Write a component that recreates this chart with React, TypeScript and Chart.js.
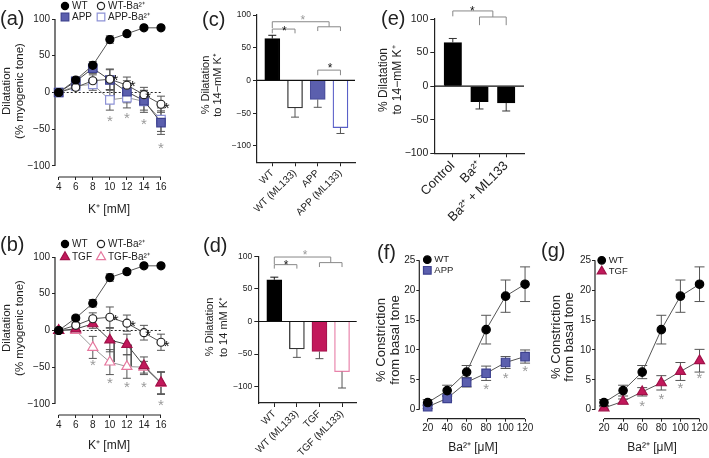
import React, { useEffect, useRef } from 'react';
import { Chart, registerables } from 'chart.js';

Chart.register(...registerables);

const W = 709;
const H = 458;
const FONT = "'Liberation Sans', Arial, Helvetica, sans-serif";
Chart.defaults.font.family = FONT;
Chart.defaults.color = '#222';

// ---------------- DATA ----------------
// (a),(b): dilatation to K+
const kConc = [4, 6, 8, 10, 12, 14, 16];
const kTicks = [4, 6, 8, 10, 12, 14, 16];
const dilTicks = [-100, -50, 0, 50, 100];
const wtK = [0, 17, 37, 72, 80, 88, 88];
const wtKErr = [0, 3, 5, 5, 3, 2, 2];
const wtBaK = [0, 7, 16, 18, 10, -3, -16];
const wtBaKErr = [0, 4, 8, 14, 11, 10, 11];
const appK = [0, 15, 33, 17, 1, -11, -41];
const appKErr = [0, 4, 7, 14, 15, 13, 16];
const appBaK = [0, 9, 11, -10, -7, -12, -37];
const appBaKErr = [0, 5, 8, 14, 14, 15, 16];
const tgfK = [0, 2, 9, -13, -19, -48, -71];
const tgfKErr = [0, 4, 6, 16, 14, 12, 15];
const tgfBaK = [0, 0, -23, -43, -49, -50, -72];
const tgfBaKErr = [0, 4, 15, 17, 16, 8, 15];

const aBlackStarX = [10.64, 12.68, 14.5, 16.67];
const aBlackStarY = [23, 14, -1, -16];
const aGrayStarX = [10, 12, 14, 16];
const aGrayStarY = [-33, -29, -38, -70];
const aLinkIdx = [3];
const bBlackStarX = [10.68, 12.7, 14.5, 16.67];
const bBlackStarY = [20, 11, -1, -16];
const bGrayStarX = [8, 10, 12, 14, 16];
const bGrayStarY = [-42, -66, -72, -72, -96];
const bLinkIdx = [3, 4];

// (c),(d),(e): bar charts
const barTicks = [-100, -50, 0, 50, 100];
const cCats = ['WT', 'WT (ML133)', 'APP', 'APP (ML133)'];
const cVals = [64, -42, -29, -72];
const cErr = [5, 14, 12, 9];
const dCats = ['WT', 'WT (ML133)', 'TGF', 'TGF (ML133)'];
const dVals = [64, -42, -46, -77];
const dErr = [4, 13, 11, 25];
const eCats = ['Control', 'Ba²⁺', 'Ba²⁺ + ML133'];
const eVals = [65, -23, -25];
const eErr = [6, 11, 12];

// brackets: [x1, x2, yLine, yEnd1, yEnd2]
const cBrackets = [
  [0, 1, 78.5, 72, 72],
  [2, 3, 82, 75.5, 75.5],
  [0, 2.5, 89.7, 80, 82],
  [2, 3, 15.8, 8, 8],
];
const cGrayStarX = [1.34];
const cGrayStarY = [96.5];
const cBlackStarX = [0.53, 2.54];
const cBlackStarY = [81, 23.4];
const dBrackets = [
  [0, 1, 87.2, 81.1, 81.1],
  [2, 3, 90.3, 83.5, 83.5],
  [0, 2.5, 98.9, 88, 90.3],
];
const dGrayStarX = [1.36];
const dGrayStarY = [106.5];
const dBlackStarX = [0.52];
const dBlackStarY = [92.3];
const eBrackets = [
  [0, 1.5, 112, 104, 103],
  [1, 2, 103, 90.8, 90.8],
];
const eBlackStarX = [0.73];
const eBlackStarY = [117];

// (f),(g): constriction to Ba2+
const baConc = [20, 40, 60, 80, 100, 120];
const baTicks = [20, 40, 60, 80, 100, 120];
const conTicks = [0, 5, 10, 15, 20, 25];
const wtCon = [1.2, 3.2, 6.3, 13.4, 19.0, 21.0];
const wtConErr = [0.5, 0.9, 1.1, 2.4, 2.7, 2.9];
const appCon = [0.5, 1.9, 4.6, 6.1, 7.9, 8.9];
const appConErr = [0.3, 0.4, 0.8, 1.2, 1.0, 1.1];
const tgfCon = [0.3, 1.4, 3.0, 4.5, 6.4, 8.2];
const tgfConErr = [0.2, 0.4, 0.7, 1.2, 1.5, 1.9];
const fStarX = [80, 100, 120];
const fStarY = [4.2, 6.0, 7.1];
const gStarX = [60, 80, 100, 120];
const gStarY = [1.3, 2.5, 4.3, 5.9];

// ---------------- STYLES ----------------
const ST: any = {
  wt: { style: 'circle', r: 4, fill: '#000', stroke: '#000', line: '#555' },
  wtBa: { style: 'circle', r: 4, fill: '#fff', stroke: '#222', line: '#555' },
  app: { style: 'rect', r: 6, fill: '#5b5fae', stroke: '#3d418f', line: '#444' },
  appBa: { style: 'rect', r: 6, fill: '#fff', stroke: '#8d92d6', line: '#999' },
  tgf: { style: 'triangle', r: 5.8, fill: '#c2185b', stroke: '#a01249', line: '#444' },
  tgfBa: { style: 'triangle', r: 5.8, fill: '#fff', stroke: '#e6789f', line: '#999' },
  wtF: { style: 'circle', r: 4.2, fill: '#000', stroke: '#000', line: '#555' },
  appF: { style: 'rect', r: 6, fill: '#5b5fae', stroke: '#3d418f', line: '#555' },
  tgfF: { style: 'triangle', r: 5.8, fill: '#c2185b', stroke: '#a01249', line: '#555' },
};

const fmt = (v: number) => (v < 0 ? '−' + Math.abs(v) : String(v));

// ---------------- DRAW HELPERS ----------------
function seg(ctx: any, x1: number, y1: number, x2: number, y2: number, color: string, lw = 1, dash: number[] = []) {
  ctx.save();
  ctx.strokeStyle = color;
  ctx.lineWidth = lw;
  ctx.setLineDash(dash);
  ctx.beginPath();
  ctx.moveTo(x1, y1);
  ctx.lineTo(x2, y2);
  ctx.stroke();
  ctx.restore();
}

function txt(ctx: any, s: string, x: number, y: number, size: number, o: any = {}) {
  ctx.save();
  ctx.font = `${o.weight || 'normal'} ${size}px ${FONT}`;
  ctx.fillStyle = o.color || '#222';
  ctx.textAlign = o.align || 'center';
  ctx.textBaseline = o.baseline || 'middle';
  ctx.translate(x, y);
  if (o.rot) ctx.rotate(o.rot);
  ctx.fillText(s, 0, 0);
  ctx.restore();
}

function star(ctx: any, x: number, y: number, size: number, color: string) {
  txt(ctx, '*', x, y + 0.6 * size, size, { color, baseline: 'alphabetic' });
}

function marker(ctx: any, st: any, x: number, y: number, scale = 1) {
  const r = st.r * scale;
  ctx.save();
  ctx.beginPath();
  if (st.style === 'circle') ctx.arc(x, y, r, 0, Math.PI * 2);
  else if (st.style === 'rect') {
    const s = r * Math.SQRT1_2;
    ctx.rect(x - s, y - s, 2 * s, 2 * s);
  } else {
    ctx.moveTo(x, y - r);
    ctx.lineTo(x + r * 0.866, y + r * 0.5);
    ctx.lineTo(x - r * 0.866, y + r * 0.5);
    ctx.closePath();
  }
  ctx.fillStyle = st.fill;
  ctx.fill();
  ctx.strokeStyle = st.stroke;
  ctx.lineWidth = 1.2;
  ctx.stroke();
  ctx.restore();
}

function decorate(ctx: any, d: any) {
  if (d.label) txt(ctx, d.label[0], d.label[1], d.label[2], 20, { align: 'left' });
  if (d.yTitle) d.yTitle.forEach((t: any) => txt(ctx, t[0], t[1], t[2], d.yTitleSize, { rot: -Math.PI / 2 }));
  if (d.xTitle) txt(ctx, d.xTitle[0], d.xTitle[1], d.xTitle[2], d.xTitleSize || 12);
  if (d.legend)
    d.legend.forEach((l: any) => {
      marker(ctx, l[0], l[2], l[3], 0.9);
      txt(ctx, l[1], l[2] + 7, l[3], d.legendSize || 10, { align: 'left' });
    });
}

// ---------------- LINE PANELS ----------------
function linePanel(p: any) {
  const { box, xs, xMin, xMax, yMin, yMax, xTicks, yTicks, series, tickSize, cap, under, over, deco, yPad } = p;
  const plugin = {
    id: 'deco',
    beforeDatasetsDraw(chart: any) {
      const ctx = chart.ctx;
      const X = (v: number) => chart.scales.x.getPixelForValue(v);
      const Y = (v: number) => chart.scales.y.getPixelForValue(v);
      const a = chart.chartArea;
      seg(ctx, a.left, Y(yTicks[yTicks.length - 1]), a.left, Y(yTicks[0]), '#222', 1.2);
      seg(ctx, X(xTicks[0]), a.bottom, X(xTicks[xTicks.length - 1]), a.bottom, '#222', 1.2);
      if (under) under(ctx, X, Y);
      const dss = chart.data.datasets;
      for (let di = dss.length - 1; di >= 0; di--) {
        const ds = dss[di];
        ds.data.forEach((pt: any, i: number) => {
          const e = ds.err[i];
          if (!e) return;
          const x = X(pt.x);
          const y1 = Y(pt.y + e);
          const y2 = Y(pt.y - e);
          seg(ctx, x, y1, x, y2, ds.errColor, 1);
          seg(ctx, x - cap, y1, x + cap, y1, ds.errColor, 1);
          seg(ctx, x - cap, y2, x + cap, y2, ds.errColor, 1);
        });
      }
    },
    afterDraw(chart: any) {
      const ctx = chart.ctx;
      const X = (v: number) => chart.scales.x.getPixelForValue(v);
      const Y = (v: number) => chart.scales.y.getPixelForValue(v);
      if (over) over(ctx, X, Y);
      decorate(ctx, deco);
    },
  };
  const tickCommon = { color: '#222', font: { size: tickSize }, autoSkip: false, maxRotation: 0, callback: (v: any) => fmt(v) };
  const gridCommon = { display: true, drawOnChartArea: false, drawTicks: true, tickLength: 3, tickColor: '#222', lineWidth: 1, offset: false };
  return {
    type: 'line',
    data: {
      datasets: series.map((s: any) => ({
        label: s.label,
        data: xs.map((x: number, i: number) => ({ x, y: s.data[i] })),
        err: s.err,
        errColor: s.st.errColor || '#555',
        borderColor: s.st.line,
        borderWidth: 1,
        pointStyle: s.st.style,
        pointRadius: s.st.r,
        pointBackgroundColor: s.st.fill,
        pointBorderColor: s.st.stroke,
        pointBorderWidth: 1.2,
        clip: false,
        tension: 0,
        fill: false,
      })),
    },
    options: {
      animation: false,
      responsive: false,
      devicePixelRatio: 1,
      events: [],
      layout: { padding: { left: 0, top: box.top, right: W - box.right, bottom: 0 } },
      plugins: { legend: { display: false }, tooltip: { enabled: false }, title: { display: false } },
      scales: {
        x: {
          type: 'linear',
          min: xMin,
          max: xMax,
          offset: false,
          border: { display: false },
          grid: gridCommon,
          ticks: { ...tickCommon, padding: 1 },
          afterBuildTicks: (s: any) => { s.ticks = xTicks.map((v: number) => ({ value: v })); },
          afterFit: (s: any) => { s.height = H - box.bottom; },
        },
        y: {
          type: 'linear',
          min: yMin,
          max: yMax,
          border: { display: false },
          grid: gridCommon,
          ticks: { ...tickCommon, padding: yPad ?? 2 },
          afterBuildTicks: (s: any) => { s.ticks = yTicks.map((v: number) => ({ value: v })); },
          afterFit: (s: any) => { s.width = box.left; },
        },
      },
    },
    plugins: [plugin],
  };
}

// ---------------- BAR PANELS ----------------
function barPanel(p: any) {
  const { box, cats, vals, err, fills, borders, errColors, barW, xMin, xMax, yMin, yMax, tickSize, catSize, brackets, grayX, grayY, blackX, blackY, starSize, deco } = p;
  const plugin = {
    id: 'barDeco',
    beforeDatasetsDraw(chart: any) {
      const ctx = chart.ctx;
      const a = chart.chartArea;
      const y0 = chart.scales.y.getPixelForValue(0);
      seg(ctx, a.left, y0, a.right, y0, '#111', 1.2);
    },
    afterDraw(chart: any) {
      const ctx = chart.ctx;
      const X = (v: number) => chart.scales.x.getPixelForValue(v);
      const Y = (v: number) => chart.scales.y.getPixelForValue(v);
      vals.forEach((v: number, i: number) => {
        const end = v >= 0 ? v + err[i] : v - err[i];
        const x = X(i);
        seg(ctx, x, Y(v), x, Y(end), errColors[i], 1);
        seg(ctx, x - 4, Y(end), x + 4, Y(end), errColors[i], 1);
      });
      brackets.forEach((b: number[]) => {
        const c = '#888';
        seg(ctx, X(b[0]), Y(b[2]), X(b[1]), Y(b[2]), c, 1);
        seg(ctx, X(b[0]), Y(b[2]), X(b[0]), Y(b[3]), c, 1);
        seg(ctx, X(b[1]), Y(b[2]), X(b[1]), Y(b[4]), c, 1);
      });
      grayX.forEach((x: number, i: number) => star(ctx, X(x), Y(grayY[i]), starSize, '#999'));
      blackX.forEach((x: number, i: number) => star(ctx, X(x), Y(blackY[i]), starSize, '#111'));
      decorate(ctx, deco);
    },
  };
  return {
    type: 'bar',
    data: {
      datasets: [
        {
          data: vals.map((v: number, i: number) => ({ x: i, y: v })),
          backgroundColor: fills,
          borderColor: borders,
          borderWidth: 1.3,
          barThickness: barW,
          clip: false,
        },
      ],
    },
    options: {
      animation: false,
      responsive: false,
      devicePixelRatio: 1,
      events: [],
      layout: { padding: { left: 0, top: box.top, right: W - box.right, bottom: 0 } },
      plugins: { legend: { display: false }, tooltip: { enabled: false }, title: { display: false } },
      scales: {
        x: {
          type: 'linear',
          min: xMin,
          max: xMax,
          offset: false,
          border: { display: true, color: '#222', width: 1.2 },
          grid: { display: true, drawOnChartArea: false, drawTicks: true, tickLength: 4, tickColor: '#222', offset: false },
          ticks: { color: '#222', font: { size: catSize }, autoSkip: false, minRotation: 45, maxRotation: 45, padding: 1, callback: (v: any) => cats[v] ?? '' },
          afterBuildTicks: (s: any) => { s.ticks = cats.map((_: any, i: number) => ({ value: i })); },
          afterFit: (s: any) => { s.height = H - box.bottom; },
        },
        y: {
          type: 'linear',
          min: yMin,
          max: yMax,
          border: { display: true, color: '#222', width: 1.2 },
          grid: { display: true, drawOnChartArea: false, drawTicks: true, tickLength: 4, tickColor: '#222' },
          ticks: { color: '#222', font: { size: tickSize }, padding: 2, callback: (v: any) => fmt(v) },
          afterBuildTicks: (s: any) => { s.ticks = barTicks.map((v: number) => ({ value: v })); },
          afterFit: (s: any) => { s.width = box.left; },
        },
      },
    },
    plugins: [plugin],
  };
}

// ---------------- PANELS ----------------
function kPanel(which: 'a' | 'b') {
  const isA = which === 'a';
  const top = isA ? 19 : 257;
  const bottom = isA ? 177 : 415;
  const s2 = isA ? ST.app : ST.tgf;
  const s3 = isA ? ST.appBa : ST.tgfBa;
  const d2 = isA ? appK : tgfK;
  const d3 = isA ? appBaK : tgfBaK;
  const links = isA ? aLinkIdx : bLinkIdx;
  const bx = isA ? aBlackStarX : bBlackStarX;
  const by = isA ? aBlackStarY : bBlackStarY;
  const gx = isA ? aGrayStarX : bGrayStarX;
  const gy = isA ? aGrayStarY : bGrayStarY;
  const cy = isA ? 91 : 328;
  const ly = isA ? [6, 17] : [244, 257];
  return linePanel({
    box: { left: 55, top, right: 163, bottom },
    xs: kConc,
    xMin: 3.566,
    xMax: 16.235,
    yMin: -115,
    yMax: 100,
    xTicks: kTicks,
    yTicks: dilTicks,
    tickSize: 10,
    cap: 4,
    series: [
      { label: 'WT', data: wtK, err: wtKErr, st: ST.wt },
      { label: 'WT-Ba²⁺', data: wtBaK, err: wtBaKErr, st: ST.wtBa },
      { label: isA ? 'APP' : 'TGF', data: d2, err: isA ? appKErr : tgfKErr, st: s2 },
      { label: isA ? 'APP-Ba²⁺' : 'TGF-Ba²⁺', data: d3, err: isA ? appBaKErr : tgfBaKErr, st: s3 },
    ],
    under: (ctx: any, X: any, Y: any) => {
      seg(ctx, X(kTicks[0]), Y(0), X(kTicks[kTicks.length - 1]), Y(0), '#222', 1, [2, 2]);
      links.forEach((i: number) => {
        const x = X(kConc[i] + 0.5);
        seg(ctx, x, Y(d2[i]), x, Y(d3[i]), '#444', 1.5);
      });
    },
    over: (ctx: any, X: any, Y: any) => {
      bx.forEach((x: number, i: number) => star(ctx, X(x), Y(by[i]), 15, '#111'));
      gx.forEach((x: number, i: number) => star(ctx, X(x), Y(gy[i]), 15, '#999'));
    },
    deco: {
      label: [isA ? '(a)' : '(b)', 0, isA ? 19 : 245],
      yTitle: [
        ['Dilatation', 7, cy],
        ['(% myogenic tone)', 20, cy],
      ],
      yTitleSize: 11.5,
      xTitle: ['K⁺ [mM]', 109, isA ? 210 : 446],
      legend: [
        [ST.wt, 'WT', 65, ly[0]],
        [ST.wtBa, 'WT-Ba²⁺', 101, ly[0]],
        [s2, isA ? 'APP' : 'TGF', 65, ly[1]],
        [s3, isA ? 'APP-Ba²⁺' : 'TGF-Ba²⁺', 101, ly[1]],
      ],
      legendSize: 10,
    },
  });
}

function baPanel(which: 'f' | 'g') {
  const isF = which === 'f';
  const s2 = isF ? ST.appF : ST.tgfF;
  const sx = isF ? fStarX : gStarX;
  const sy = isF ? fStarY : gStarY;
  const left = isF ? 419.3 : 595;
  const right = isF ? 527 : 702;
  const mx = isF ? 427.3 : 601.7;
  return linePanel({
    box: { left, top: 260.3, right, bottom: 418.7 },
    xs: baConc,
    xMin: isF ? 11.37 : 10.6,
    xMax: isF ? 122 : 122.1,
    yMin: -1.5,
    yMax: 25,
    xTicks: baTicks,
    yTicks: conTicks,
    tickSize: 10,
    yPad: 1,
    cap: 5,
    series: [
      { label: 'WT', data: wtCon, err: wtConErr, st: ST.wtF },
      { label: isF ? 'APP' : 'TGF', data: isF ? appCon : tgfCon, err: isF ? appConErr : tgfConErr, st: s2 },
    ],
    over: (ctx: any, X: any, Y: any) => {
      sx.forEach((x: number, i: number) => star(ctx, X(x), Y(sy[i]), 15, '#999'));
    },
    deco: {
      label: [isF ? '(f)' : '(g)', isF ? 377 : 541, isF ? 253 : 251],
      yTitle: [
        ['% Constriction', isF ? 381 : 556.5, isF ? 340 : 337],
        ['from basal tone', isF ? 395 : 569.5, isF ? 340 : 337],
      ],
      yTitleSize: 13,
      xTitle: ['Ba²⁺ [μM]', isF ? 473 : 652, 448],
      legend: [
        [ST.wtF, 'WT', mx, isF ? 259.7 : 260.3],
        [s2, isF ? 'APP' : 'TGF', mx, isF ? 270.3 : 271.3],
      ],
      legendSize: 9.5,
    },
  });
}

const panelC = () =>
  barPanel({
    box: { left: 257, top: 15, right: 355, bottom: 162.3 },
    cats: cCats, vals: cVals, err: cErr,
    fills: ['#000', '#fff', '#5b5fae', '#fff'],
    borders: ['#000', '#333', '#4a4e9c', '#5a60c8'],
    errColors: ['#111', '#555', '#555', '#555'],
    barW: 15, xMin: -0.673, xMax: 3.64, yMin: -125, yMax: 100,
    tickSize: 8.5, catSize: 10,
    brackets: cBrackets, grayX: cGrayStarX, grayY: cGrayStarY, blackX: cBlackStarX, blackY: cBlackStarY, starSize: 12,
    deco: {
      label: ['(c)', 202, 20],
      yTitle: [['% Dilatation', 206, 85], ['to 14−mM K⁺', 218, 85]],
      yTitleSize: 11,
    },
  });

const panelD = () =>
  barPanel({
    box: { left: 258.3, top: 256.3, right: 356.7, bottom: 403 },
    cats: dCats, vals: dVals, err: dErr,
    fills: ['#000', '#fff', '#c2185b', '#fff'],
    borders: ['#000', '#333', '#a8144f', '#e883aa'],
    errColors: ['#111', '#555', '#555', '#555'],
    barW: 15, xMin: -0.709, xMax: 3.65, yMin: -125, yMax: 100,
    tickSize: 8.5, catSize: 10,
    brackets: dBrackets, grayX: dGrayStarX, grayY: dGrayStarY, blackX: dBlackStarX, blackY: dBlackStarY, starSize: 12,
    deco: {
      label: ['(d)', 203, 246.5],
      yTitle: [['% Dilatation', 210, 327], ['to 14 mM K⁺', 223.5, 327]],
      yTitleSize: 11,
    },
  });

const panelE = () =>
  barPanel({
    box: { left: 434.3, top: 19, right: 524, bottom: 153.3 },
    cats: eCats, vals: eVals, err: eErr,
    fills: ['#000', '#000', '#000'],
    borders: ['#000', '#000', '#000'],
    errColors: ['#333', '#333', '#333'],
    barW: 17.5, xMin: -0.693, xMax: 2.667, yMin: -100, yMax: 100,
    tickSize: 10.5, catSize: 13,
    brackets: eBrackets, grayX: [], grayY: [], blackX: eBlackStarX, blackY: eBlackStarY, starSize: 12,
    deco: {
      label: ['(e)', 381, 19],
      yTitle: [['% Dilatation', 384, 80], ['to 14−mM K⁺', 397.5, 80]],
      yTitleSize: 12,
    },
  });

const panels = [() => kPanel('a'), () => kPanel('b'), panelC, panelD, panelE, () => baPanel('f'), () => baPanel('g')];

function ChartCanvas({ make }: { make: () => any }) {
  const ref = useRef<HTMLCanvasElement | null>(null);
  useEffect(() => {
    const chart = new Chart(ref.current as HTMLCanvasElement, make());
    return () => chart.destroy();
  }, []);
  return (
    <canvas
      ref={ref}
      width={W}
      height={H}
      style={{ position: 'absolute', left: 0, top: 0, width: W, height: H, pointerEvents: 'none' }}
    />
  );
}

export default function App() {
  return (
    <div style={{ position: 'fixed', left: 0, top: 0, width: W, height: H, background: '#fff', overflow: 'hidden' }}>
      {panels.map((m, i) => (
        <ChartCanvas key={i} make={m} />
      ))}
    </div>
  );
}
